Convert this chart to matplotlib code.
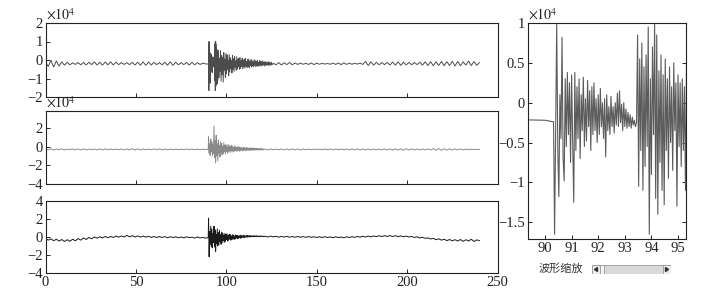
import numpy as np
import matplotlib
matplotlib.use("Agg")
import matplotlib.pyplot as plt
from matplotlib.patches import Rectangle, Polygon

plt.rcParams['font.family'] = ['Liberation Serif', 'Noto Sans CJK SC', 'DejaVu Sans']
plt.rcParams['mathtext.fontset'] = 'stix'

# ---- data (units of 1e4 counts) ----
# trace 1: quiet part, 0-90 s every 1.5 s
tr1_pre = [-0.10, -0.35, -0.02, -0.38, -0.05, -0.33, -0.10, -0.28, -0.12, -0.26,
           -0.15, -0.24, -0.14, -0.26, -0.13, -0.27, -0.12, -0.25, -0.10, -0.27,
           -0.12, -0.28, -0.11, -0.26, -0.10, -0.27, -0.12, -0.25, -0.14, -0.24,
           -0.15, -0.25, -0.13, -0.27, -0.12, -0.28, -0.10, -0.29, -0.11, -0.27,
           -0.13, -0.25, -0.14, -0.26, -0.12, -0.28, -0.10, -0.29, -0.12, -0.26,
           -0.14, -0.25, -0.13, -0.27, -0.12, -0.26, -0.15, -0.24, -0.17, -0.21,
           -0.22]
# trace 1: onset, 90.32 s onward every 0.04 s (also shown zoomed on the right)
tr1_onset = [-0.24, -1.65, -0.30, 1.00, -0.60, -1.18, 0.10, -0.45, 0.82, -0.70,
             -0.98, 0.30, -0.55, 0.38, -0.40, 0.25, -0.75, 0.35, -0.50, -1.25,
             0.38, -0.60, 0.20, -0.45, 0.30, -0.70, 0.10, -0.35, 0.32, -0.55,
             0.05, -0.48, 0.28, -0.30, 0.15, -0.60, 0.20, -0.40, 0.25, -0.35,
             0.05, -0.50, 0.10, -0.40, 0.18, -0.30, 0.00, -0.45, 0.05, -0.68,
             0.10, -0.35, -0.05, -0.40, 0.08, -0.30, -0.05, -0.38, 0.00, -0.28,
             0.12, -0.30, 0.15, -0.25, -0.02, -0.35, 0.00, -0.30, -0.08, -0.32,
             -0.12, -0.30, -0.15, -0.32, -0.18, -0.28, -0.22, -0.30, -0.25, 0.85,
             -1.05, 0.55, -0.60, 0.75, -1.10, 0.45, -0.80, 0.60, -0.55, 0.95,
             -1.65, 0.30, -0.90, 0.70, -0.40, 1.00, -1.20, 0.85, -1.40, 0.40,
             -0.75, 0.60, -1.10, 0.35, -1.28, 0.55, -0.60, 0.30, -0.95, 0.45,
             -0.50, 0.20, -0.85, 0.50, -0.35, 0.25, -1.30, 0.35, -0.55, 0.25,
             -0.80, 0.30, -0.60, 0.20, -1.10, 0.55]
# trace 1: coda peaks/troughs, 95.6 s onward every 0.3 s
tr1_coda_hi = [0.45, 0.10, 0.50, 0.25, 0.15, 0.40, 0.05, 0.35, 0.28, 0.00,
               0.30, 0.12, -0.02, 0.25, 0.08, 0.20, -0.05, 0.18, 0.02, 0.10,
               0.15, -0.04, 0.10, 0.00, 0.06, 0.09, -0.08, 0.05, 0.04, -0.06,
               0.03, 0.00, -0.10, 0.02, -0.04, -0.08, 0.00, -0.12, -0.03, -0.06,
               -0.10, -0.05, -0.12, -0.08, -0.11, -0.14, -0.09, -0.12, -0.15, -0.12]
tr1_coda_lo = [-0.95, -0.60, -1.15, -0.80, -1.20, -0.55, -0.95, -0.75, -0.50, -0.85,
               -0.65, -0.45, -0.70, -0.50, -0.62, -0.38, -0.55, -0.48, -0.36, -0.50,
               -0.45, -0.34, -0.48, -0.38, -0.44, -0.33, -0.40, -0.35, -0.42, -0.30,
               -0.38, -0.33, -0.36, -0.29, -0.36, -0.31, -0.34, -0.28, -0.33, -0.30,
               -0.31, -0.27, -0.32, -0.28, -0.29, -0.26, -0.30, -0.27, -0.28, -0.26]
# trace 1: 126 s onward every 1.5 s
tr1_post = [-0.18, -0.26, -0.14, -0.27, -0.15, -0.25, -0.13, -0.26, -0.16, -0.24,
            -0.17, -0.23, -0.18, -0.24, -0.16, -0.25, -0.17, -0.23, -0.18, -0.22,
            -0.19, -0.23, -0.17, -0.24, -0.16, -0.25, -0.15, -0.24, -0.17, -0.23,
            -0.18, -0.22, -0.17, -0.24, -0.08, -0.30, -0.10, -0.28, -0.12, -0.26,
            -0.14, -0.25, -0.13, -0.27, -0.11, -0.28, -0.10, -0.29, -0.12, -0.27,
            -0.13, -0.26, -0.14, -0.25, -0.12, -0.28, -0.10, -0.30, -0.09, -0.31,
            -0.10, -0.29, -0.08, -0.31, -0.09, -0.30, -0.07, -0.32, -0.08, -0.31,
            -0.10, -0.28, -0.06, -0.30, -0.08, -0.29, -0.14]

# trace 2
tr2_pre = [-0.25, -0.35, -0.24, -0.36, -0.26, -0.34, -0.25, -0.36, -0.27, -0.33,
           -0.26, -0.35, -0.24, -0.37, -0.25, -0.35, -0.27, -0.34, -0.26, -0.35,
           -0.25, -0.36, -0.24, -0.35, -0.26, -0.34, -0.27, -0.33, -0.26, -0.35,
           -0.25, -0.36, -0.22, -0.38, -0.24, -0.36, -0.26, -0.34, -0.27, -0.33,
           -0.26, -0.34, -0.25, -0.35, -0.26, -0.34, -0.27, -0.33, -0.28, -0.32,
           -0.27, -0.33, -0.26, -0.34, -0.27, -0.33, -0.28, -0.32, -0.29, -0.31,
           -0.30]
tr2_coda_hi = [1.05, 0.30, 0.80, 0.50, 0.20, 2.20, 0.60, 1.20, 0.30, 0.70,
               0.10, 0.50, 0.35, 0.05, 0.40, 0.15, 0.20, -0.05, 0.22, 0.10,
               0.00, 0.12, 0.05, -0.08, 0.08, -0.02, -0.10, 0.00, -0.04, -0.12,
               -0.07, -0.15, -0.09, -0.08, -0.16, -0.10, -0.13, -0.18, -0.15, -0.14,
               -0.19, -0.15, -0.17, -0.20, -0.19, -0.18, -0.21, -0.20, -0.21, -0.22,
               -0.22]
tr2_coda_lo = [-0.70, -0.95, -0.55, -1.00, -0.75, -1.20, -1.75, -1.00, -1.55, -0.70,
               -1.10, -0.60, -0.90, -0.75, -0.55, -0.80, -0.50, -0.70, -0.60, -0.48,
               -0.62, -0.45, -0.58, -0.50, -0.42, -0.52, -0.46, -0.40, -0.50, -0.44,
               -0.38, -0.46, -0.42, -0.37, -0.45, -0.40, -0.36, -0.43, -0.39, -0.36,
               -0.41, -0.37, -0.40, -0.35, -0.39, -0.36, -0.38, -0.35, -0.37, -0.35,
               -0.36]
tr2_post = [-0.26, -0.36, -0.25, -0.35, -0.27, -0.34, -0.26, -0.35, -0.25, -0.36,
            -0.24, -0.37, -0.25, -0.36, -0.26, -0.34, -0.27, -0.33, -0.28, -0.32,
            -0.27, -0.33, -0.26, -0.34, -0.25, -0.35, -0.26, -0.34, -0.27, -0.33,
            -0.26, -0.35, -0.25, -0.36, -0.24, -0.37, -0.25, -0.36, -0.26, -0.35,
            -0.27, -0.34, -0.26, -0.35, -0.25, -0.36, -0.24, -0.38, -0.23, -0.39,
            -0.22, -0.40, -0.23, -0.38, -0.24, -0.37, -0.25, -0.36, -0.26, -0.35,
            -0.24, -0.37, -0.23, -0.39, -0.22, -0.40, -0.23, -0.38, -0.24, -0.37,
            -0.25, -0.36, -0.26, -0.35, -0.27, -0.34, -0.28, -0.33, -0.29, -0.31]

# trace 3
tr3_pre = [-0.15, -0.35, -0.20, -0.42, -0.25, -0.45, -0.28, -0.50, -0.30, -0.48,
           -0.25, -0.42, -0.18, -0.35, -0.10, -0.28, -0.05, -0.20, 0.00, -0.12,
           0.02, -0.10, 0.05, -0.08, 0.06, -0.05, 0.10, -0.02, 0.12, 0.00,
           0.18, 0.02, 0.15, 0.00, 0.12, 0.00, 0.10, -0.02, 0.08, -0.04,
           0.06, -0.06, 0.05, -0.05, 0.04, -0.08, 0.03, -0.06, 0.02, -0.08,
           0.00, -0.10, 0.02, -0.08, -0.02, -0.12, 0.00, -0.10, -0.04, -0.12,
           -0.08]
tr3_coda_hi = [2.10, 0.60, 1.20, 0.90, 0.40, 1.20, 0.80, 0.30, 0.90, 0.50,
               0.75, 0.25, 0.55, 0.45, 0.20, 0.40, 0.30, 0.35, 0.15, 0.28,
               0.26, 0.12, 0.24, 0.20, 0.10, 0.22, 0.18, 0.19, 0.08, 0.18,
               0.20, 0.12, 0.20, 0.16, 0.10, 0.17, 0.18, 0.12, 0.17, 0.15,
               0.10, 0.14, 0.15, 0.10, 0.14, 0.12, 0.08, 0.11, 0.12, 0.09,
               0.10]
tr3_coda_lo = [-2.20, -0.80, -1.10, -1.20, -0.60, -1.10, -1.60, -0.70, -1.00, -0.85,
               -0.50, -0.80, -0.65, -0.40, -0.60, -0.50, -0.30, -0.45, -0.38, -0.22,
               -0.35, -0.30, -0.15, -0.26, -0.22, -0.10, -0.20, -0.15, -0.05, -0.14,
               -0.10, -0.02, -0.08, -0.05, 0.02, -0.03, -0.01, 0.03, 0.00, 0.03,
               0.04, 0.02, 0.04, 0.05, 0.03, 0.04, 0.05, 0.03, 0.05, 0.04,
               0.04]
tr3_post = [0.08, 0.00, 0.10, 0.02, 0.08, -0.02, 0.06, 0.00, 0.07, -0.02,
            0.05, -0.03, 0.06, -0.02, 0.04, -0.04, 0.05, -0.03, 0.03, -0.05,
            0.02, -0.06, 0.03, -0.05, 0.01, -0.08, 0.02, -0.06, 0.00, -0.08,
            0.02, -0.06, 0.04, -0.04, 0.06, -0.02, 0.08, 0.00, 0.10, 0.02,
            0.12, 0.04, 0.14, 0.05, 0.15, 0.06, 0.16, 0.05, 0.15, 0.04,
            0.12, 0.02, 0.10, 0.00, 0.06, -0.05, 0.02, -0.10, -0.04, -0.15,
            -0.10, -0.22, -0.15, -0.30, -0.20, -0.35, -0.25, -0.40, -0.28, -0.42,
            -0.30, -0.45, -0.28, -0.48, -0.30, -0.45, -0.25, -0.50, -0.32, -0.40]

x_ticks = [0, 50, 100, 150, 200, 250]
zoom_ticks = [90, 91, 92, 93, 94, 95]
zoom_yticks = [-1.5, -1, -0.5, 0, 0.5, 1]


def seg(start, step, vals):
    return start + step * np.arange(len(vals)), np.asarray(vals)


def interleave(hi, lo):
    return list(np.column_stack([hi, lo]).ravel())


def build(parts):
    t = np.concatenate([p[0] for p in parts])
    y = np.concatenate([p[1] for p in parts])
    return t, y


t1, y1 = build([seg(0, 1.5, tr1_pre), seg(90.32, 0.04, tr1_onset),
                seg(95.6, 0.3, interleave(tr1_coda_hi, tr1_coda_lo)),
                seg(126.0, 1.5, tr1_post)])
t2, y2 = build([seg(0, 1.5, tr2_pre),
                seg(90.2, 0.3, interleave(tr2_coda_hi, tr2_coda_lo)),
                seg(121.5, 1.5, tr2_post)])
t3, y3 = build([seg(0, 1.5, tr3_pre),
                seg(90.2, 0.3, interleave(tr3_coda_hi, tr3_coda_lo)),
                seg(121.5, 1.5, tr3_post)])

W, H = 723, 303
fig = plt.figure(figsize=(W / 100, H / 100), dpi=100)


def px_axes(l, t, r, b):
    return fig.add_axes([l / W, 1 - b / H, (r - l) / W, (b - t) / H])


def fmt(v):
    s = '{:g}'.format(v)
    return s.replace('-', '\u2212')


def style(ax):
    for sp in ax.spines.values():
        sp.set_linewidth(0.8)
        sp.set_color('#222222')
    ax.tick_params(direction='in', length=3, width=0.7, labelsize=10.5,
                   pad=2, colors='#222222')


panels = [(23, 97, t1, y1, '#4d4d4d', (-2, 2), [-2, -1, 0, 1, 2], True),
          (111, 184, t2, y2, '#8a8a8a', (-4, 3.8), [-4, -2, 0, 2], True),
          (201, 273, t3, y3, '#1a1a1a', (-4, 4), [-4, -2, 0, 2, 4], False)]

for i, (top, bot, t, y, col, yl, yt, exp) in enumerate(panels):
    ax = px_axes(45.5, top, 497.5, bot)
    ax.plot(t, y, color=col, lw=0.7)
    ax.set_xlim(0, 250)
    ax.set_ylim(*yl)
    ax.set_xticks(x_ticks)
    ax.set_yticks(yt)
    ax.set_yticklabels([fmt(v) for v in yt])
    if i == 2:
        ax.set_xticklabels([str(v) for v in x_ticks])
    else:
        ax.set_xticklabels([])
    style(ax)
    if exp:
        ax.text(0.0, 1.0, r'$\times 10^{4}$', transform=ax.transAxes,
                fontsize=10, ha='left', va='bottom', color='#222222')

# zoomed view
axz = px_axes(528, 23, 686, 239)
axz.plot(t1, y1, color='#5c5c5c', lw=0.8)
axz.set_xlim(89.36, 95.3)
axz.set_ylim(-1.71, 1.0)
axz.set_xticks(zoom_ticks)
axz.set_xticklabels([str(v) for v in zoom_ticks])
axz.set_yticks(zoom_yticks)
axz.set_yticklabels([fmt(v) for v in zoom_yticks])
style(axz)
axz.tick_params(right=True)
axz.text(0.0, 1.0, r'$\times 10^{4}$', transform=axz.transAxes,
         fontsize=10, ha='left', va='bottom', color='#222222')

# slider under the zoomed view
fig.text(561 / W, 1 - 269 / H, '波形缩放', family=['Noto Sans CJK SC', 'DejaVu Sans'],
         fontsize=8, ha='center', va='center', color='#333333')
axs = px_axes(592, 265, 671, 274)
axs.set_xlim(592, 671)
axs.set_ylim(274, 265)
axs.axis('off')
axs.add_patch(Rectangle((592, 265), 79, 9, facecolor='#d9d9d9',
                        edgecolor='#9a9a9a', lw=0.6))
for x0 in (592, 663):
    axs.add_patch(Rectangle((x0, 265), 8, 9, facecolor='#ececec',
                            edgecolor='#9a9a9a', lw=0.6))
axs.add_patch(Polygon([[597.5, 267.5], [597.5, 271.5], [594.5, 269.5]],
                      closed=True, color='#333333'))
axs.add_patch(Polygon([[665.5, 267.5], [665.5, 271.5], [668.5, 269.5]],
                      closed=True, color='#333333'))
axs.add_patch(Rectangle((600, 265), 4, 9, facecolor='#f4f4f4',
                        edgecolor='#9a9a9a', lw=0.6))

fig.savefig('out.png', dpi=100)
